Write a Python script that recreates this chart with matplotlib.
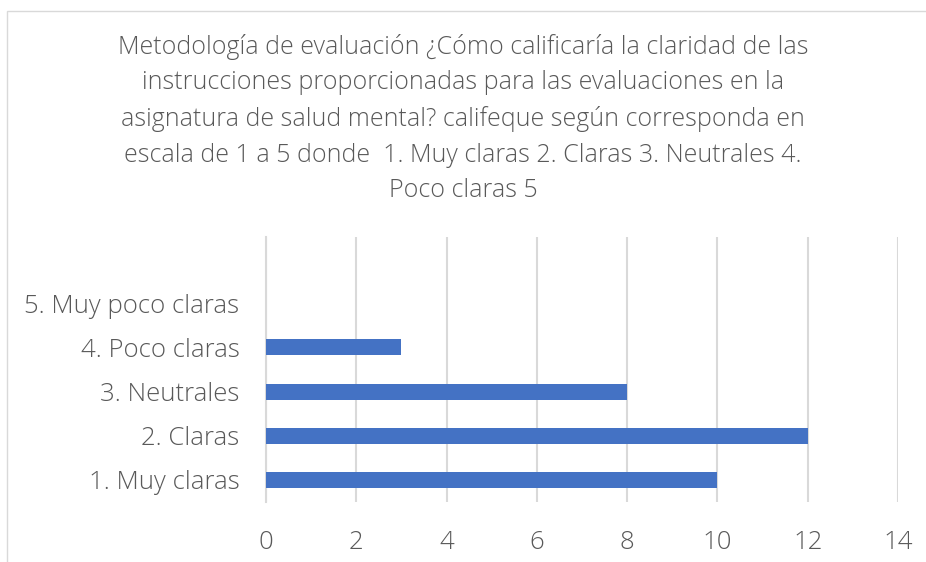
import matplotlib.pyplot as plt
from matplotlib.patches import Rectangle

categories = ["1. Muy claras", "2. Claras", "3. Neutrales", "4. Poco claras", "5. Muy poco claras"]
values = [10, 12, 8, 3, 0]
xticks = [0, 2, 4, 6, 8, 10, 12, 14]
title = ("Metodología de evaluación ¿Cómo calificaría la claridad de las\n"
         "instrucciones proporcionadas para las evaluaciones en la\n"
         "asignatura de salud mental? califeque según corresponda en\n"
         "escala de 1 a 5 donde  1. Muy claras 2. Claras 3. Neutrales 4.\n"
         "Poco claras 5")

plt.rcParams['font.family'] = ['Open Sans', 'DejaVu Sans']
plt.rcParams['font.weight'] = 'light'
text_color = '#595959'
grid_color = '#D9D9D9'

fig = plt.figure(figsize=(9.26, 5.62), dpi=100)
fig.patches.append(Rectangle((7 / 926, -0.01), 1.0, 1 - 11 / 562 + 0.01, transform=fig.transFigure,
                             fill=False, edgecolor=grid_color, linewidth=1))

ax = fig.add_axes([266 / 926, 1 - 502 / 562, 632 / 926, 265 / 562])
pos = list(range(len(categories)))
ax.barh(pos, values, height=0.36, color='#4472C4', zorder=3)
ax.set_xlim(0, 14)
ax.set_ylim(-0.5, 5.5)
ax.set_xticks(xticks)
ax.set_yticks(pos)
ax.set_yticklabels(categories)
ax.tick_params(axis='both', length=0, labelsize=18.5, colors=text_color)
ax.tick_params(axis='x', pad=20)
ax.tick_params(axis='y', pad=19)
ax.grid(axis='x', color=grid_color, linewidth=1.5, zorder=0)
for s in ['top', 'right', 'bottom']:
    ax.spines[s].set_visible(False)
ax.spines['left'].set_color(grid_color)
ax.spines['left'].set_linewidth(1.5)

fig.text(463 / 926, 1 - 34 / 562, title, ha='center', va='top', fontsize=18,
         color=text_color, linespacing=1.55)

fig.savefig('out.png', dpi=100)
